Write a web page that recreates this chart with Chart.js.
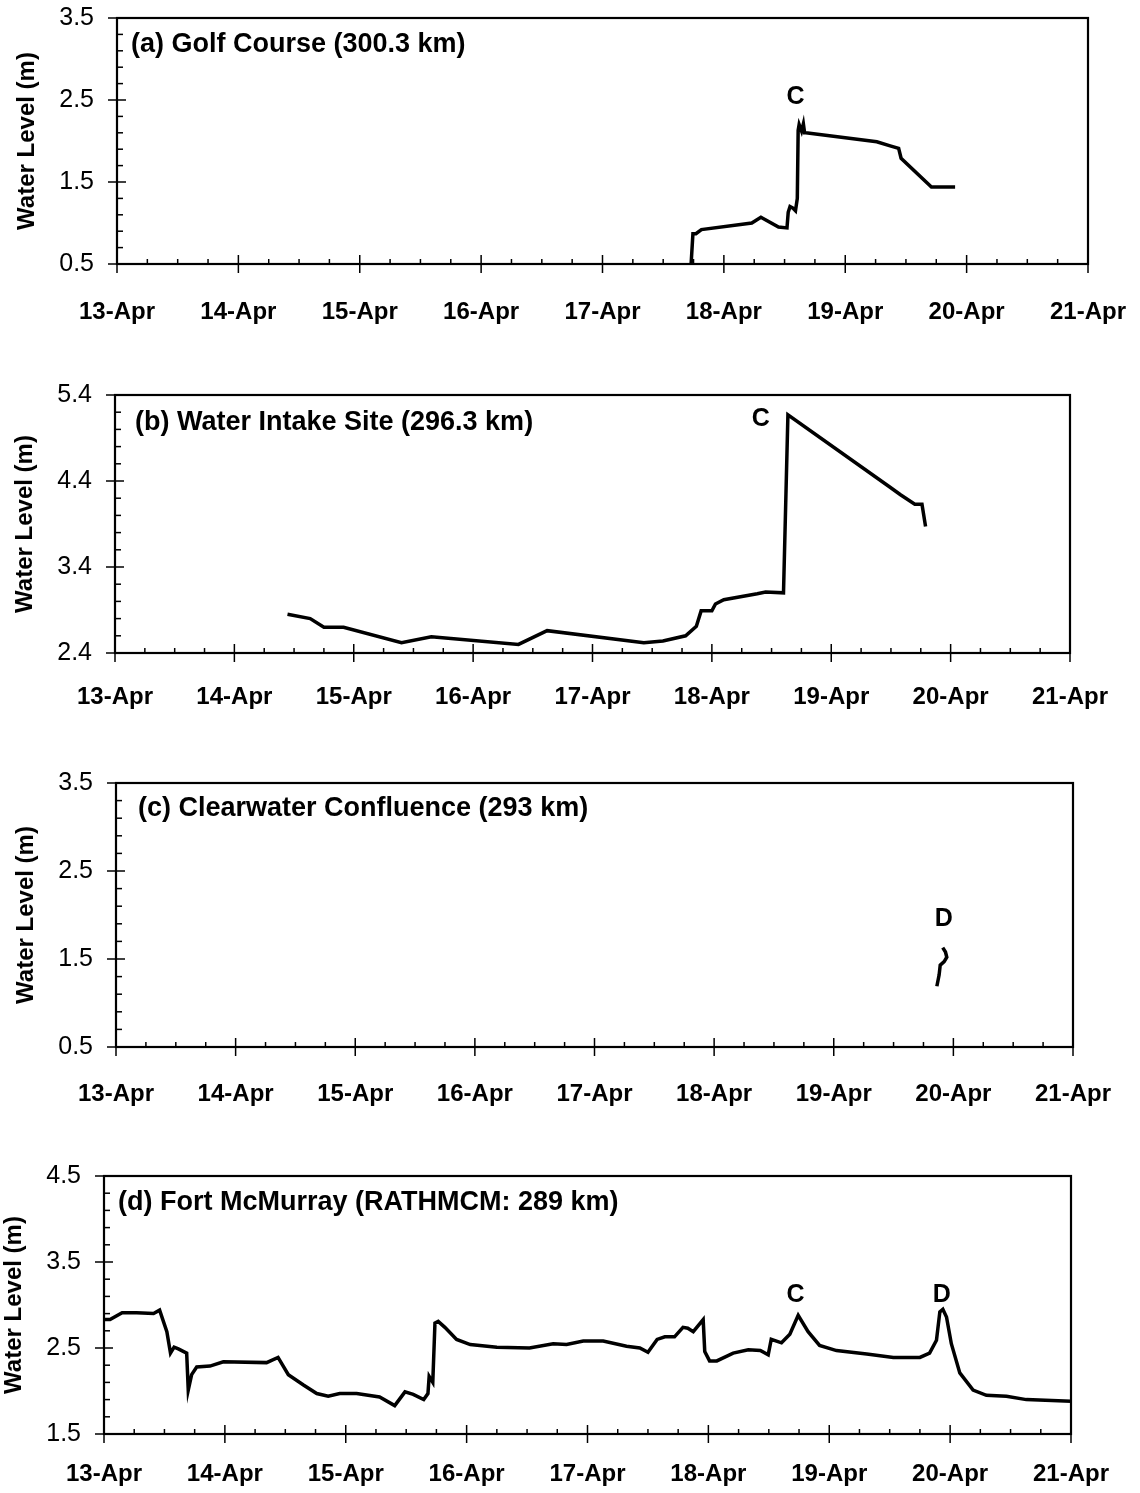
<!DOCTYPE html>
<html>
<head>
<meta charset="utf-8">
<title>Water levels, 13-21 April</title>
<script src="https://cdn.jsdelivr.net/npm/chart.js@4.4.1/dist/chart.umd.min.js"></script>
<style>
  html, body { margin: 0; padding: 0; background: #fff; }
  #page { position: relative; width: 1140px; height: 1493px; overflow: hidden; }
  .panel { position: absolute; left: 0; width: 1140px; }
</style>
</head>
<body>
<div id="page">
  <div class="panel" id="wrapA"><canvas id="chartA"></canvas></div>
  <div class="panel" id="wrapB"><canvas id="chartB"></canvas></div>
  <div class="panel" id="wrapC"><canvas id="chartC"></canvas></div>
  <div class="panel" id="wrapD"><canvas id="chartD"></canvas></div>
</div>
<script>
// x axis: days since 13-Apr 00:00
const dayTicks = [0, 1, 2, 3, 4, 5, 6, 7, 8];
const dayLabels = ['13-Apr', '14-Apr', '15-Apr', '16-Apr', '17-Apr', '18-Apr', '19-Apr', '20-Apr', '21-Apr'];

// (a) Golf Course
const golfDays  = [4.73, 4.745, 4.77, 4.815, 5.23, 5.305, 5.45, 5.52, 5.53, 5.545, 5.57, 5.59, 5.605,
                   5.612, 5.62, 5.64, 5.655, 5.665, 5.675, 6.26, 6.37, 6.44, 6.46, 6.71, 6.905];
const golfLevel = [0.50, 0.87, 0.87, 0.92, 1.00, 1.07, 0.95, 0.94, 1.13, 1.20, 1.18, 1.15, 1.30,
                   2.13, 2.20, 2.12, 2.21, 2.10, 2.10, 1.99, 1.94, 1.91, 1.79, 1.44, 1.44];
const golfTicks = [0.5, 1.5, 2.5, 3.5];

// (b) Water Intake Site
const intakeDays  = [1.445, 1.635, 1.75, 1.915, 2.40, 2.65, 3.38, 3.62, 4.43, 4.59, 4.78, 4.87, 4.91,
                     5.00, 5.03, 5.10, 5.38, 5.45, 5.60, 5.637, 6.49, 6.58, 6.70, 6.76, 6.79];
const intakeLevel = [2.85, 2.80, 2.70, 2.70, 2.52, 2.59, 2.50, 2.66, 2.52, 2.54, 2.60, 2.71, 2.89,
                     2.89, 2.97, 3.02, 3.09, 3.11, 3.10, 5.17, 4.33, 4.24, 4.13, 4.13, 3.87];
const intakeTicks = [2.4, 3.4, 4.4, 5.4];

// (c) Clearwater Confluence
const confDays  = [6.862, 6.881, 6.89, 6.923, 6.945, 6.934, 6.911];
const confLevel = [1.19, 1.32, 1.43, 1.47, 1.52, 1.58, 1.63];
const confTicks = [0.5, 1.5, 2.5, 3.5];

// (d) Fort McMurray (RATHMCM)
const fortDays  = [0.00, 0.05, 0.15, 0.27, 0.41, 0.46, 0.52, 0.55, 0.58, 0.615, 0.684, 0.697, 0.725,
                   0.767, 0.877, 0.987, 1.345, 1.44, 1.525, 1.65, 1.76, 1.855, 1.95, 2.09, 2.28, 2.405,
                   2.49, 2.558, 2.645, 2.68, 2.69, 2.72, 2.738, 2.765, 2.82, 2.917, 3.03, 3.25, 3.52,
                   3.716, 3.827, 3.965, 4.13, 4.323, 4.433, 4.50, 4.576, 4.64, 4.72, 4.79, 4.83, 4.875,
                   4.957, 4.97, 5.01, 5.07, 5.205, 5.33, 5.43, 5.495, 5.52, 5.605, 5.674, 5.743, 5.825,
                   5.92, 6.06, 6.31, 6.53, 6.75, 6.83, 6.887, 6.915, 6.94, 6.97, 7.01, 7.08, 7.19, 7.30,
                   7.466, 7.63, 8.00];
const fortLevel = [2.83, 2.83, 2.91, 2.91, 2.90, 2.94, 2.69, 2.44, 2.51, 2.49, 2.44, 2.01, 2.19,
                   2.28, 2.29, 2.34, 2.33, 2.39, 2.19, 2.07, 1.97, 1.94, 1.97, 1.97, 1.93, 1.83,
                   1.99, 1.96, 1.90, 1.97, 2.17, 2.10, 2.79, 2.81, 2.74, 2.60, 2.54, 2.51, 2.50,
                   2.55, 2.54, 2.58, 2.58, 2.52, 2.50, 2.45, 2.60, 2.63, 2.63, 2.74, 2.73, 2.69,
                   2.83, 2.46, 2.35, 2.35, 2.44, 2.48, 2.47, 2.42, 2.60, 2.56, 2.66, 2.88, 2.69,
                   2.53, 2.47, 2.43, 2.39, 2.39, 2.44, 2.59, 2.92, 2.95, 2.86, 2.55, 2.21, 2.01, 1.95,
                   1.94, 1.90, 1.88];
const fortTicks = [1.5, 2.5, 3.5, 4.5];

const FONT = '"Liberation Sans", Arial, Helvetica, sans-serif';
Chart.defaults.font.family = FONT;
Chart.defaults.color = '#000';

// plot frame plus major/minor tick marks drawn through the chart scales
const frameTicks = {
  id: 'frameTicks',
  afterDatasetsDraw(chart) {
    const {ctx, chartArea: a, scales: {x, y}} = chart;
    ctx.save();
    ctx.strokeStyle = '#000';
    ctx.lineWidth = 1.5;
    const nx = Math.round((x.max - x.min) / 0.25);
    for (let i = 0; i <= nx; i++) {
      const px = x.getPixelForValue(x.min + i * 0.25);
      const major = i % 4 === 0;
      ctx.beginPath();
      ctx.moveTo(px, a.bottom - (major ? 9 : 5));
      ctx.lineTo(px, a.bottom + (major ? 9 : 0));
      ctx.stroke();
    }
    const ny = Math.round((y.max - y.min) / 0.2);
    for (let i = 0; i <= ny; i++) {
      const py = y.getPixelForValue(y.min + i * 0.2);
      const major = i % 5 === 0;
      ctx.beginPath();
      ctx.moveTo(a.left - (major ? 9 : 0), py);
      ctx.lineTo(a.left + (major ? 9 : 6), py);
      ctx.stroke();
    }
    ctx.lineWidth = 2.2;
    ctx.strokeRect(a.left, a.top, a.right - a.left, a.bottom - a.top);
    ctx.restore();
  }
};

// panel caption and the peak letters
const panelText = {
  id: 'panelText',
  afterDraw(chart, args, opts) {
    const {ctx, chartArea: a, scales: {x, y}} = chart;
    ctx.save();
    ctx.fillStyle = '#000';
    ctx.textBaseline = 'middle';
    ctx.font = 'bold 27px ' + FONT;
    ctx.textAlign = 'left';
    ctx.fillText(opts.caption, a.left + opts.dx, a.top + opts.dy);
    ctx.font = 'bold 25px ' + FONT;
    ctx.textAlign = 'center';
    (opts.marks || []).forEach(m => {
      ctx.fillText(m.text, x.getPixelForValue(m.day), y.getPixelForValue(m.level));
    });
    ctx.restore();
  }
};

const panels = [
  {canvas: 'chartA', wrap: 'wrapA', top: 18, bottom: 264, left: 117, right: 1088, labelPad: 26,
   yMin: 0.5, yMax: 3.5, yTicks: golfTicks, days: golfDays, level: golfLevel,
   caption: '(a) Golf Course (300.3 km)', dx: 14, dy: 27,
   marks: [{text: 'C', day: 5.59, level: 2.54}]},
  {canvas: 'chartB', wrap: 'wrapB', top: 395, bottom: 653, left: 115, right: 1070, labelPad: 22,
   yMin: 2.4, yMax: 5.4, yTicks: intakeTicks, days: intakeDays, level: intakeLevel,
   caption: '(b) Water Intake Site (296.3 km)', dx: 20, dy: 28,
   marks: [{text: 'C', day: 5.41, level: 5.12}]},
  {canvas: 'chartC', wrap: 'wrapC', top: 783, bottom: 1047, left: 116, right: 1073, labelPad: 25,
   yMin: 0.5, yMax: 3.5, yTicks: confTicks, days: confDays, level: confLevel,
   caption: '(c) Clearwater Confluence (293 km)', dx: 22, dy: 26,
   marks: [{text: 'D', day: 6.92, level: 1.95}]},
  {canvas: 'chartD', wrap: 'wrapD', top: 1176, bottom: 1434, left: 104, right: 1071, labelPad: 18,
   yMin: 1.5, yMax: 4.5, yTicks: fortTicks, days: fortDays, level: fortLevel,
   caption: '(d) Fort McMurray (RATHMCM: 289 km)', dx: 14, dy: 27,
   marks: [{text: 'C', day: 5.72, level: 3.12}, {text: 'D', day: 6.93, level: 3.12}]}
];

const padTop = 25;
const axisBand = 70;

panels.forEach(p => {
  const wrap = document.getElementById(p.wrap);
  wrap.style.top = (p.top - padTop) + 'px';
  wrap.style.height = (p.bottom - p.top + padTop + axisBand) + 'px';

  new Chart(document.getElementById(p.canvas), {
    type: 'line',
    data: {
      datasets: [{
        data: p.days.map((d, i) => ({x: d, y: p.level[i]})),
        borderColor: '#000',
        borderWidth: 3.5,
        pointRadius: 0,
        tension: 0,
        fill: false
      }]
    },
    options: {
      responsive: true,
      maintainAspectRatio: false,
      animation: false,
      layout: {padding: {top: padTop, right: 1140 - p.right, left: 0, bottom: 0}},
      plugins: {
        legend: {display: false},
        tooltip: {enabled: false},
        panelText: {caption: p.caption, dx: p.dx, dy: p.dy, marks: p.marks}
      },
      scales: {
        x: {
          type: 'linear',
          min: 0,
          max: 8,
          afterBuildTicks: s => { s.ticks = dayTicks.map(v => ({value: v})); },
          afterFit: s => {
            s.height = axisBand;
            s.paddingLeft = 0;
            s.paddingRight = 0;
          },
          grid: {display: false},
          border: {display: false},
          ticks: {
            padding: p.labelPad,
            maxRotation: 0,
            autoSkip: false,
            font: {size: 24, weight: 'bold'},
            callback: (v, i) => dayLabels[i]
          }
        },
        y: {
          min: p.yMin,
          max: p.yMax,
          afterBuildTicks: s => { s.ticks = p.yTicks.map(v => ({value: v})); },
          afterFit: s => {
            s.width = p.left;
            s.paddingTop = 0;
            s.paddingBottom = 0;
          },
          grid: {display: false},
          border: {display: false},
          ticks: {
            padding: 15,
            font: {size: 25},
            callback: v => v.toFixed(1)
          },
          title: {
            display: true,
            text: 'Water Level (m)',
            font: {size: 24, weight: 'bold'},
            padding: {top: p.left - 104, bottom: 0}
          }
        }
      }
    },
    plugins: [frameTicks, panelText]
  });
});
</script>
</body>
</html>
